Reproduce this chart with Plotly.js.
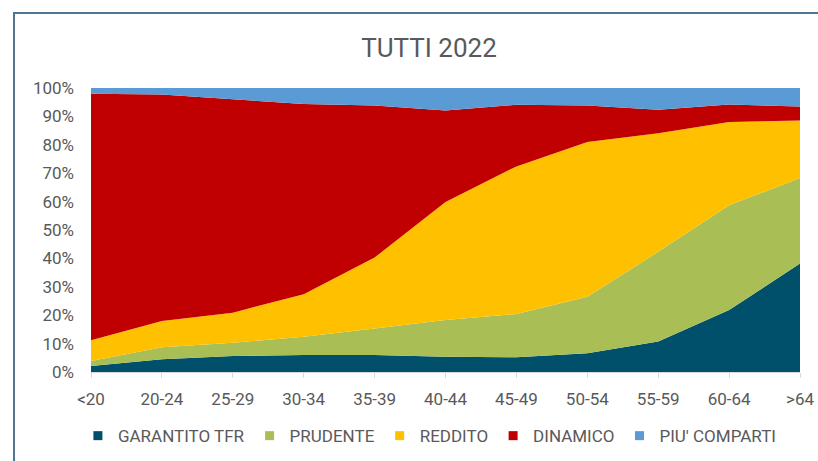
<!DOCTYPE html>
<html>
<head>
<meta charset="utf-8">
<script src="https://cdn.plot.ly/plotly-3.0.1.min.js"></script>
<style>html,body{margin:0;padding:0;background:#fff;}#chart{width:818px;height:461px;}</style>
</head>
<body>
<div id="chart"></div>
<script>
const categories = ['<20','20-24','25-29','30-34','35-39','40-44','45-49','50-54','55-59','60-64','>64'];
const garantitoTFR = [2.1, 4.5, 5.6, 6.0, 6.0, 5.4, 5.2, 6.6, 10.7, 21.8, 38.2];
const prudente     = [1.8, 4.2, 4.7, 6.4, 9.3, 12.9, 15.2, 19.9, 31.6, 36.9, 30.1];
const reddito      = [7.3, 9.3, 10.6, 15.0, 25.0, 41.6, 52.0, 54.5, 41.8, 29.3, 20.3];
const dinamico     = [86.8, 79.7, 75.1, 67.0, 53.5, 32.2, 21.7, 12.8, 8.2, 6.2, 4.9];
const piuComparti  = [2.0, 2.3, 4.0, 5.6, 6.2, 7.9, 5.9, 6.2, 7.7, 5.8, 6.5];
const seriesNames  = ['GARANTITO TFR', 'PRUDENTE', 'REDDITO', 'DINAMICO', "PIU' COMPARTI"];
const seriesValues = [garantitoTFR, prudente, reddito, dinamico, piuComparti];
const seriesColors = ['#00506b', '#a9bf55', '#ffc000', '#c00000', '#5b9bd5'];
const yTicks = [0,10,20,30,40,50,60,70,80,90,100];
const yTickText = yTicks.map(v => v + '%');

const font = {family: 'Roboto, "Open Sans", sans-serif', size: 17, color: '#595959'};

const traces = [];
seriesValues.forEach((vals, i) => {
  traces.push({
    type: 'scatter', x: categories, y: vals, name: seriesNames[i],
    mode: 'lines', stackgroup: 'one', line: {width: 0, color: seriesColors[i]},
    fillcolor: seriesColors[i], showlegend: false, hoverinfo: 'x+y+name'
  });
});
seriesValues.forEach((vals, i) => {
  traces.push({
    type: 'scatter', x: [categories[0]], y: [null], name: seriesNames[i], mode: 'markers',
    marker: {symbol: 'square', size: 9, color: seriesColors[i]}, showlegend: true, hoverinfo: 'skip'
  });
});

const layout = {
  width: 818, height: 461,
  margin: {l: 91, r: 18, t: 88, b: 89},
  paper_bgcolor: '#ffffff', plot_bgcolor: '#ffffff',
  font: font,
  title: {text: 'TUTTI 2022', font: {family: font.family, size: 26, color: '#595959'},
          xref: 'container', x: 0.5245, xanchor: 'center', yref: 'container', y: 0.896, yanchor: 'middle'},
  xaxis: {
    type: 'category', range: [0, 10], fixedrange: true, automargin: false,
    showline: true, linecolor: '#d9d9d9', linewidth: 1,
    ticks: 'outside', ticklen: 5, tickcolor: '#d9d9d9', tickangle: 0,
    showgrid: false, zeroline: false, ticklabelstandoff: 7,
    tickfont: font
  },
  yaxis: {
    range: [0, 100], tickmode: 'array', tickvals: yTicks, ticktext: yTickText, fixedrange: true,
    automargin: false, showline: false, showgrid: false, zeroline: false, ticks: '',
    ticklabelstandoff: 16, tickfont: font
  },
  legend: {
    orientation: 'h', x: 0.478, xanchor: 'center',
    yref: 'container', y: 0.054, yanchor: 'middle', font: font, itemwidth: 30,
    traceorder: 'normal', itemclick: false, itemdoubleclick: false
  },
  showlegend: true,
  shapes: [{
    type: 'rect', xref: 'paper', yref: 'paper',
    x0: (14 - 91) / 709, x1: 1.06, y0: -0.4, y1: (372 - 13) / 284,
    line: {color: '#4f7590', width: 2}, fillcolor: 'rgba(0,0,0,0)', layer: 'below'
  }]
};

Plotly.newPlot('chart', traces, layout, {displayModeBar: false, staticPlot: true});
</script>
</body>
</html>
